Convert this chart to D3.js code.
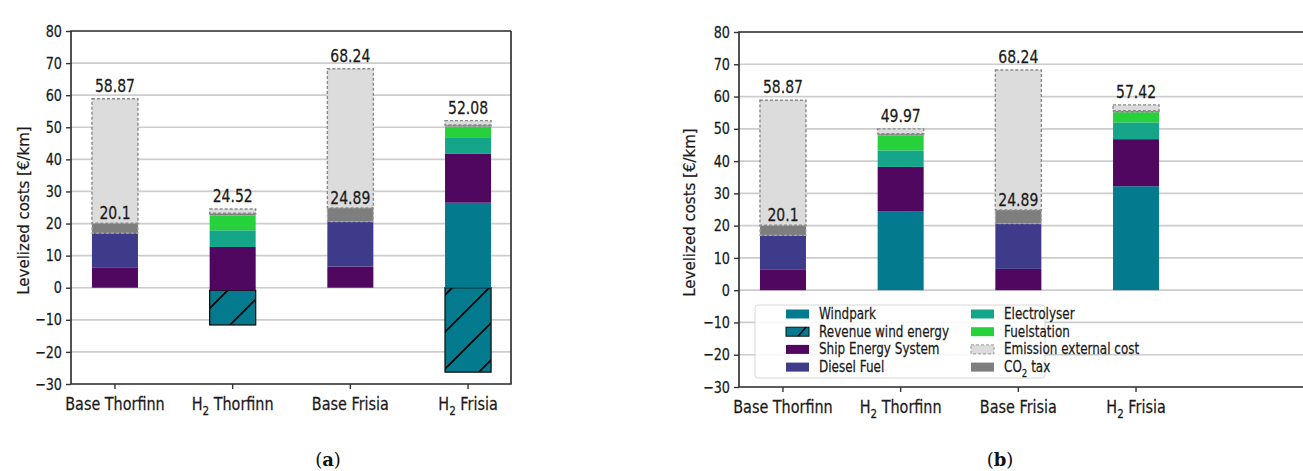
<!DOCTYPE html>
<html><head><meta charset="utf-8">
<script src="https://cdn.jsdelivr.net/npm/d3@7"></script>
<style>body{margin:0;background:#fff}svg{display:block}</style>
</head><body>
<svg id="c" width="1303" height="471"></svg>
<script>
// ---------- data ----------
const categories = ["Base Thorfinn", "H2 Thorfinn", "Base Frisia", "H2 Frisia"];
const yTicks = [-30, -20, -10, 0, 10, 20, 30, 40, 50, 60, 70, 80];
const seriesNames = ["Windpark", "Revenue wind energy", "Ship Energy System", "Diesel Fuel",
  "Electrolyser", "Fuelstation", "Emission external cost", "CO2 tax"];

// chart (a)
const aBottom = [0, -0.8, 0, 0];
const aRevenue = [0, -10.8, 0, -26.3];
const aWindpark = [0, 0, 0, 26.5];
const aShip = [6.2, 13.5, 6.6, 15.2];
const aDiesel = [10.8, 0, 14.0, 0];
const aElectrolyser = [0, 5.2, 0, 5.2];
const aFuelstation = [0, 4.6, 0, 3.3];
const aCo2 = [3.1, 0.7, 4.29, 0.5];
const aEmission = [38.77, 1.32, 43.35, 1.38];
const aTotalLabels = ["58.87", "24.52", "68.24", "52.08"];
const aCo2Labels = ["20.1", "", "24.89", ""];

// chart (b)
const bBottom = [0, 0, 0, 0];
const bRevenue = [0, 0, 0, 0];
const bWindpark = [0, 24.5, 0, 32.2];
const bShip = [6.3, 13.7, 6.6, 14.6];
const bDiesel = [10.7, 0, 14.0, 0];
const bElectrolyser = [0, 5.1, 0, 5.2];
const bFuelstation = [0, 4.7, 0, 3.2];
const bCo2 = [3.1, 0.5, 4.29, 0.4];
const bEmission = [38.77, 1.47, 43.35, 1.82];
const bTotalLabels = ["58.87", "49.97", "68.24", "57.42"];
const bCo2Labels = ["20.1", "", "24.89", ""];

// ---------- styles ----------
const col = {
  "Windpark": "#037a8e", "Revenue wind energy": "#037a8e", "Ship Energy System": "#4f075f",
  "Diesel Fuel": "#3f3b8b", "Electrolyser": "#15a68a", "Fuelstation": "#27d13c",
  "Emission external cost": "#dcdcdc", "CO2 tax": "#7e7e7e"
};
const SX = 0.8;
const FONT = "DejaVu Sans";
const TXT = "#1a1a1a";
const svg = d3.select("#c");

const defs = svg.append("defs");
const pat = defs.append("pattern").attr("id", "hatch").attr("patternUnits", "userSpaceOnUse")
  .attr("width", 37).attr("height", 37);
pat.append("rect").attr("width", 37).attr("height", 37).attr("fill", col["Windpark"]);
pat.append("path").attr("d", "M0,37 L37,0 M-9,9 L9,-9 M28,46 L46,28")
  .attr("stroke", "#000").attr("stroke-width", 1.7);

function label(g, x, y, parts, size, anchor) {
  const t = g.append("text").attr("transform", `translate(${x},${y}) scale(${SX},1)`)
    .attr("font-family", FONT).attr("font-size", size).attr("fill", TXT)
    .attr("stroke", TXT).attr("stroke-width", 0.25)
    .attr("text-anchor", anchor || "middle");
  const m = parts.match(/^(H|CO)2(.*)$/);
  if (m) {
    t.append("tspan").text(m[1]);
    t.append("tspan").attr("dy", size * 0.3).attr("font-size", size * 0.72).text("2");
    t.append("tspan").attr("dy", -size * 0.3).text(m[2]);
  } else t.text(parts);
  return t;
}

function drawPanel(cfg) {
  const g = svg.append("g");
  const x = d3.scaleBand().domain(categories).range([cfg.left, cfg.left + 441])
    .paddingInner(0.609).paddingOuter(0.178);
  const y = d3.scaleLinear().domain([-30, 80]).range([cfg.bottom, cfg.top]);

  g.selectAll(".grid").data(yTicks).join("line")
    .attr("x1", cfg.left).attr("x2", cfg.frameRight)
    .attr("y1", d => y(d)).attr("y2", d => y(d))
    .attr("stroke", "#cdcdcd").attr("stroke-width", 1.7);

  const stackOrder = [
    ["Windpark", cfg.windpark], ["Ship Energy System", cfg.ship], ["Diesel Fuel", cfg.diesel],
    ["Electrolyser", cfg.electrolyser], ["Fuelstation", cfg.fuelstation],
    ["CO2 tax", cfg.co2], ["Emission external cost", cfg.emission]
  ];
  categories.forEach((c, i) => {
    const bx = x(c), bw = x.bandwidth();
    if (cfg.revenue[i] !== 0) {
      const y0 = cfg.base[i], y1 = cfg.base[i] + cfg.revenue[i];
      g.append("rect").attr("x", bx).attr("width", bw)
        .attr("y", y(y0)).attr("height", y(y1) - y(y0))
        .attr("fill", "url(#hatch)").attr("stroke", "#111").attr("stroke-width", 1.3);
    }
    let cum = cfg.base[i];
    stackOrder.forEach(([name, arr]) => {
      const v = arr[i];
      if (v === 0) return;
      const y0 = cum, y1 = cum + v;
      cum = y1;
      const r = g.append("rect").attr("x", bx).attr("width", bw)
        .attr("y", y(y1)).attr("height", y(y0) - y(y1)).attr("fill", col[name]);
      if (name === "Emission external cost") {
        r.attr("stroke", "#8a8a8a").attr("stroke-width", 1.4).attr("stroke-dasharray", "3,2");
      } else if (name === "CO2 tax") {
        r.attr("stroke", "#a8a8a8").attr("stroke-width", 1.2).attr("stroke-dasharray", "3,2");
      }
    });
    const cx = bx + bw / 2;
    label(g, cx, y(cum) - 7, cfg.totals[i], 17.5);
    if (cfg.co2Labels[i]) {
      let top = cfg.base[i];
      [cfg.windpark, cfg.ship, cfg.diesel, cfg.electrolyser, cfg.fuelstation, cfg.co2]
        .forEach(a => top += a[i]);
      label(g, cx, y(top) - 4, cfg.co2Labels[i], 17.5);
    }
  });

  g.append("path")
    .attr("d", `M${cfg.frameRight},${cfg.top} H${cfg.left} V${cfg.bottom} H${cfg.frameRight}` +
      (cfg.closeRight ? ` V${cfg.top}` : ""))
    .attr("fill", "none").attr("stroke", "#333").attr("stroke-width", 1.7);

  const ya = g.append("g").attr("transform", `translate(${cfg.left},0)`)
    .call(d3.axisLeft(y).tickValues(yTicks).tickSize(5).tickPadding(4)
      .tickFormat(d => d < 0 ? "\u2212" + Math.abs(d) : String(d)));
  ya.select(".domain").remove();
  ya.selectAll(".tick line").attr("stroke", "#333").attr("stroke-width", 1.4);
  ya.selectAll(".tick text").attr("font-family", FONT).attr("font-size", 16).attr("fill", TXT)
    .attr("stroke", TXT).attr("stroke-width", 0.25)
    .attr("x", -9 / SX).attr("transform", `scale(${SX},1)`);

  categories.forEach(c => {
    const cx = x(c) + x.bandwidth() / 2;
    g.append("line").attr("x1", cx).attr("x2", cx).attr("y1", cfg.bottom).attr("y2", cfg.bottom + 5)
      .attr("stroke", "#333").attr("stroke-width", 1.4);
    label(g, cx, cfg.bottom + 26, c, 18);
  });

  g.append("text").attr("transform", `translate(${cfg.ylabX},${(cfg.top + cfg.bottom) / 2 + 3}) rotate(-90)`)
    .attr("text-anchor", "middle").attr("dominant-baseline", "central")
    .attr("font-family", FONT).attr("font-size", 15).attr("fill", TXT)
    .attr("stroke", TXT).attr("stroke-width", 0.2)
    .text("Levelized costs [€/km]");

  g.append("text").attr("x", cfg.capX).attr("y", 466).attr("text-anchor", "middle")
    .attr("font-family", "DejaVu Serif").attr("font-size", 18).attr("fill", "#111")
    .html(cfg.caption);
  return { g, x, y };
}

drawPanel({
  left: 71, top: 31, bottom: 384, frameRight: 511, closeRight: true, ylabX: 24, capX: 328,
  caption: '(<tspan font-weight="bold">a</tspan>)',
  base: aBottom, revenue: aRevenue, windpark: aWindpark, ship: aShip, diesel: aDiesel,
  electrolyser: aElectrolyser, fuelstation: aFuelstation, co2: aCo2, emission: aEmission,
  totals: aTotalLabels, co2Labels: aCo2Labels
});
drawPanel({
  left: 739, top: 32, bottom: 387, frameRight: 1310, closeRight: false, ylabX: 690, capX: 1000,
  caption: '(<tspan font-weight="bold">b</tspan>)',
  base: bBottom, revenue: bRevenue, windpark: bWindpark, ship: bShip, diesel: bDiesel,
  electrolyser: bElectrolyser, fuelstation: bFuelstation, co2: bCo2, emission: bEmission,
  totals: bTotalLabels, co2Labels: bCo2Labels
});

// legend (chart b)
const lg = svg.append("g");
lg.append("rect").attr("x", 755).attr("y", 305).attr("width", 290).attr("height", 73)
  .attr("rx", 3).attr("fill", "#fff").attr("fill-opacity", 0.85)
  .attr("stroke", "#d8d8d8").attr("stroke-width", 1);
seriesNames.forEach((name, i) => {
  const colI = Math.floor(i / 4), row = i % 4;
  const sx = colI === 0 ? 786 : 971, ty = 314 + row * 17.7;
  const sw = lg.append("rect").attr("x", sx).attr("y", ty - 4.5).attr("width", 23).attr("height", 9)
    .attr("fill", col[name]);
  if (name === "Revenue wind energy") {
    sw.attr("stroke", "#111").attr("stroke-width", 1);
    lg.append("line").attr("x1", sx + 12).attr("y1", ty + 4.5).attr("x2", sx + 20).attr("y2", ty - 4.5)
      .attr("stroke", "#000").attr("stroke-width", 1.3);
  }
  if (name === "Emission external cost")
    sw.attr("stroke", "#999").attr("stroke-width", 1).attr("stroke-dasharray", "3,2");
  label(lg, sx + 33, ty + 5, name, 15, "start");
});
</script>
</body></html>
